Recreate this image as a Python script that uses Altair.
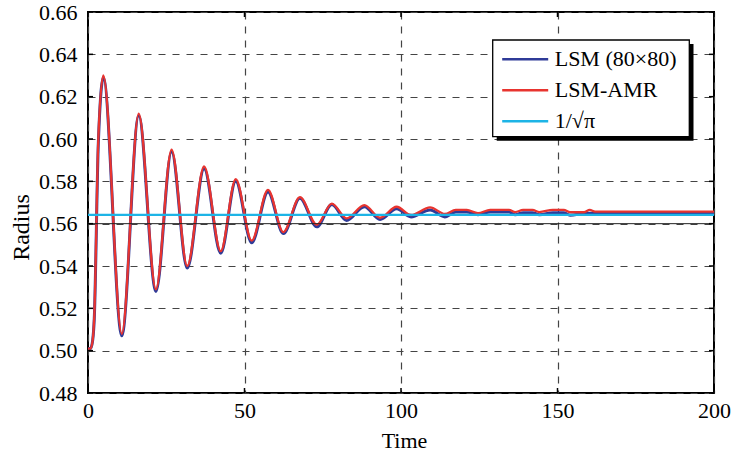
import altair as alt
import numpy as np
import pandas as pd

# ---- data ----
t_vals = [0, 0.8, 1.5, 2.0, 3.3, 4.9, 10.8, 16.2, 21.7, 26.7, 31.7, 37.1, 42.4, 47.2,
          52.3, 57.5, 62.4, 67.7, 73.1, 77.9, 82.6, 88.3, 93.3, 98.6, 103.2, 109.3,
          114.0, 117.5, 121.0, 124.6, 128.5, 134.5, 136.5, 139.0, 142.0, 144.2, 148.5,
          152.0, 154.0, 158.5, 160.3, 162.0, 200]
r_amr = [0.501, 0.501, 0.505, 0.516, 0.600, 0.630, 0.508, 0.612, 0.529, 0.595, 0.540,
         0.587, 0.547, 0.581, 0.552, 0.576, 0.556, 0.5725, 0.5595, 0.5695, 0.5625,
         0.5688, 0.5628, 0.568, 0.5641, 0.5677, 0.5646, 0.5665, 0.5665, 0.5650, 0.5665,
         0.5665, 0.5655, 0.5665, 0.5665, 0.5655, 0.5665, 0.5665, 0.5654, 0.5654, 0.5665,
         0.5657, 0.5657]
r_lsm = [0.501, 0.501, 0.505, 0.515, 0.598, 0.629, 0.507, 0.611, 0.528, 0.594, 0.539,
         0.586, 0.546, 0.580, 0.551, 0.575, 0.5553, 0.572, 0.5585, 0.569, 0.5615,
         0.568, 0.562, 0.567, 0.5632, 0.5665, 0.5632, 0.5655, 0.5655, 0.5642, 0.5655,
         0.5655, 0.5642, 0.5652, 0.5652, 0.5642, 0.5652, 0.5652, 0.5640, 0.5648, 0.5649,
         0.5649, 0.5649]
t_ref = [0, 200]
r_ref = [1 / np.sqrt(np.pi)] * 2

x_ticks = [0, 50, 100, 150, 200]
y_ticks = [0.48, 0.50, 0.52, 0.54, 0.56, 0.58, 0.60, 0.62, 0.64, 0.66]
solid_line = [0.56]

series_names = ["LSM (80×80)", "LSM-AMR", "1/√π"]
series_colors = ["#2f3b98", "#e8342f", "#1db4e6"]

W, H = 626, 381
FONT = "Liberation Serif"

df = pd.concat([
    pd.DataFrame({"t": t_vals, "r": r_lsm, "series": series_names[0]}),
    pd.DataFrame({"t": t_vals, "r": r_amr, "series": series_names[1]}),
    pd.DataFrame({"t": t_ref, "r": r_ref, "series": series_names[2]}),
], ignore_index=True)

x_scale = alt.Scale(domain=[0, 200], nice=False, zero=False)
y_scale = alt.Scale(domain=[0.48, 0.66], nice=False, zero=False)
color_scale = alt.Scale(domain=series_names, range=series_colors)

x_axis = alt.Axis(values=x_ticks, format="d", title="Time", grid=True,
                  gridDash=[7, 7], gridColor="#444444", gridWidth=1.2,
                  ticks=False, domain=False, labelFlush=False,
                  labelFont=FONT, labelFontSize=22, labelColor="black", labelPadding=7,
                  titleFont=FONT, titleFontSize=22, titleFontWeight="normal",
                  titleColor="black", titleX=316, titleY=54, titleBaseline="alphabetic",
                  titleAlign="center")
y_axis = alt.Axis(values=y_ticks, format=".2f", title="Radius", grid=True,
                  gridDash=[7, 7], gridColor="#444444", gridWidth=1.2,
                  ticks=False, domain=False, labelFlush=False,
                  labelFont=FONT, labelFontSize=22, labelColor="black", labelPadding=11,
                  titleFont=FONT, titleFontSize=24, titleFontWeight="normal",
                  titleColor="black", titleX=-60, titleY=215, titleAngle=-90,
                  titleBaseline="alphabetic", titleAlign="center")

legend = alt.Legend(title=None, orient="none", legendX=412.7, legendY=32,
                    symbolType="stroke", symbolSize=2116, symbolStrokeWidth=2.5,
                    labelFont=FONT, labelFontSize=22, labelColor="black",
                    labelOffset=5, clipHeight=30.7, rowPadding=0, padding=0,
                    labelLimit=300, offset=0)

color = alt.Color("series:N", scale=color_scale, legend=legend)
X = alt.X("t:Q", scale=x_scale, axis=x_axis)
Y = alt.Y("r:Q", scale=y_scale, axis=y_axis)

base = alt.Chart(df)

lsm = base.transform_filter(alt.datum.series == series_names[0]).mark_line(
    interpolate="monotone", strokeWidth=3).encode(x=X, y=Y, color=color)
amr = base.transform_filter(alt.datum.series == series_names[1]).mark_line(
    interpolate="monotone", strokeWidth=2.3).encode(x=X, y=Y, color=color)
ref = base.transform_filter(alt.datum.series == series_names[2]).mark_line(
    strokeWidth=2.2).encode(x=X, y=Y, color=color)

solid = alt.Chart(pd.DataFrame({"r": solid_line})).mark_rule(
    color="#222222", strokeWidth=1).encode(y=Y, x=alt.value(0), x2=alt.value(W))

xt = pd.DataFrame({"t": x_ticks})
yt = pd.DataFrame({"r": y_ticks})
tick_style = dict(color="black", strokeWidth=1.5)
bottom_ticks = alt.Chart(xt).mark_rule(**tick_style).encode(
    x=X, y=alt.value(H), y2=alt.value(H - 5))
top_ticks = alt.Chart(xt).mark_rule(**tick_style).encode(
    x=X, y=alt.value(0), y2=alt.value(5))
left_ticks = alt.Chart(yt).mark_rule(**tick_style).encode(
    y=Y, x=alt.value(0), x2=alt.value(5))
right_ticks = alt.Chart(yt).mark_rule(**tick_style).encode(
    y=Y, x=alt.value(W - 5), x2=alt.value(W))

one = alt.Data(values=[{"k": 1}])
shadow = alt.Chart(one).mark_rect(color="black").encode(
    x=alt.value(408.7), x2=alt.value(605.5), y=alt.value(32), y2=alt.value(128.7))
box = alt.Chart(one).mark_rect(fill="white", stroke="black", strokeWidth=1.3).encode(
    x=alt.value(404.7), x2=alt.value(601.3), y=alt.value(28), y2=alt.value(124.7))

chart = alt.layer(
    lsm, amr, ref, solid, bottom_ticks, top_ticks, left_ticks, right_ticks, shadow, box
).properties(
    width=W, height=H,
    padding={"left": 88, "top": 12, "right": 17, "bottom": 59},
    autosize=alt.AutoSizeParams(type="none"),
    background="white",
).configure_view(stroke="black", strokeWidth=2)

chart.save("out.html", embed_options={"renderer": "svg", "actions": False})
